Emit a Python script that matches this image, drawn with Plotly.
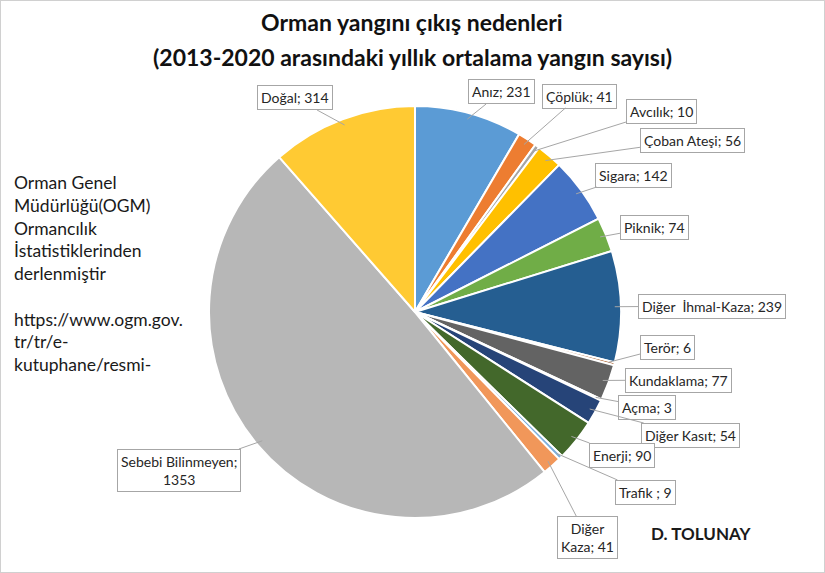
#!/usr/bin/env python3

# Orman yangini cikis nedenleri - pie chart with Excel-style callout labels

import math
import plotly.graph_objects as go

##########################################################
##### DATA

causes = ["Anız", "Çöplük", "Avcılık", "Çoban Ateşi", "Sigara", "Piknik",
	"Diğer İhmal-Kaza", "Terör", "Kundaklama", "Açma", "Diğer Kasıt",
	"Enerji", "Trafik", "Diğer Kaza", "Sebebi Bilinmeyen", "Doğal"]
fires = [231, 41, 10, 56, 142, 74, 239, 6, 77, 3, 54, 90, 9, 41, 1353, 314]

# callout text as written on the chart
label_text = ["Anız; 231", "Çöplük; 41", "Avcılık; 10", "Çoban Ateşi; 56",
	"Sigara; 142", "Piknik; 74", "Diğer  İhmal-Kaza; 239", "Terör; 6",
	"Kundaklama; 77", "Açma; 3", "Diğer Kasıt; 54", "Enerji; 90",
	"Trafik ; 9", "Diğer<br>Kaza; 41", "Sebebi Bilinmeyen;<br>1353", "Doğal; 314"]

colors = ["#5B9BD5", "#ED7D31", "#A5A5A5", "#FFC000", "#4472C4", "#70AD47",
	"#255E91", "#9E480E", "#636363", "#997300", "#264478", "#43682B",
	"#7CAFDD", "#F1975A", "#B7B7B7", "#FFCA33"]

##########################################################
##### LAYOUT CONSTANTS (pixels)

W, H = 825, 573
CX, CY, R = 415, 312, 206

# callout box centres (pixels from top-left)
label_pos = [(501, 92), (579, 96), (661, 111), (692, 140), (633, 175),
	(654, 227), (712, 306), (667, 347), (678, 380), (647, 407), (690, 435),
	(622, 455), (645, 492), (587, 537), (179, 470), (295, 98)]

FONT = "Lato"

fig = go.Figure(go.Pie(
	labels=causes, values=fires, sort=False, direction="clockwise",
	rotation=0, textinfo="none", hoverinfo="label+value",
	marker=dict(colors=colors, line=dict(color="white", width=2)),
	domain=dict(x=[(CX - R) / W, (CX + R) / W],
		y=[1 - (CY + R) / H, 1 - (CY - R) / H]),
	showlegend=False))

# leader lines + boxes, tip at the middle angle of each slice
total = sum(fires)
cum = 0
annotations = []
for val, txt, (lx, ly) in zip(fires, label_text, label_pos):
	mid = (cum + val / 2) / total * 2 * math.pi
	cum += val
	tx = CX + R * 0.97 * math.sin(mid)
	ty = CY - R * 0.97 * math.cos(mid)
	annotations.append(dict(
		x=tx / W, y=1 - ty / H, xref="paper", yref="paper",
		ax=lx - tx, ay=ly - ty, text=txt, showarrow=True,
		arrowhead=0, arrowwidth=1, arrowcolor="#A6A6A6",
		bgcolor="white", bordercolor="#A6A6A6", borderwidth=1, borderpad=3,
		font=dict(family=FONT, size=14, color="#262626")))

# title, two lines
for txt, yc in [("Orman yangını çıkış nedenleri", 22),
		("(2013-2020 arasındaki yıllık ortalama yangın sayısı)", 57)]:
	annotations.append(dict(
		x=412 / W, y=1 - yc / H, xref="paper", yref="paper", showarrow=False,
		xanchor="center", yanchor="middle", text="<b>" + txt + "</b>",
		font=dict(family=FONT, size=23, color="#111111")))

# source text on the left
annotations.append(dict(
	x=12 / W, y=1 - 170 / H, xref="paper", yref="paper",
	xanchor="left", yanchor="top", align="left", showarrow=False,
	text="Orman Genel<br>Müdürlüğü(OGM)<br>Ormancılık<br>İstatistiklerinden<br>"
		"derlenmiştir<br><br>https://www.ogm.gov.<br>tr/tr/e-<br>kutuphane/resmi-",
	font=dict(family=FONT, size=17.5, color="#1a1a1a")))

annotations.append(dict(
	x=701 / W, y=1 - 533 / H, xref="paper", yref="paper", showarrow=False,
	xanchor="center", yanchor="middle",
	text="<b>D. TOLUNAY</b>", font=dict(family=FONT, size=17, color="#1a1a1a")))

fig.update_layout(
	width=W, height=H, margin=dict(l=0, r=0, t=0, b=0),
	paper_bgcolor="white", plot_bgcolor="white",
	annotations=annotations,
	shapes=[dict(type="rect", xref="paper", yref="paper", x0=0, y0=0, x1=1, y1=1,
		line=dict(color="#D0D0D0", width=2))])

# no page margin so the figure sits exactly in the window
fig.write_html("out.html", config={"displayModeBar": False},
	post_script="document.body.style.margin='0';")
